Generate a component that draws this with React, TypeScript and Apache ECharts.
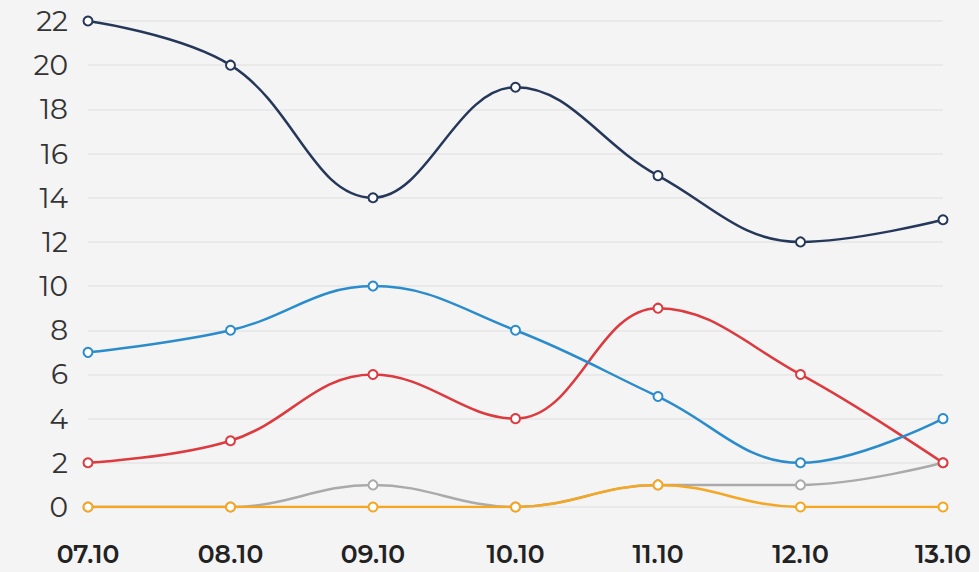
import React, { useEffect, useRef } from "react";
import * as echarts from "echarts";

const categories = ["07.10", "08.10", "09.10", "10.10", "11.10", "12.10", "13.10"];
const navySeries = [22, 20, 14, 19, 15, 12, 13];
const blueSeries = [7, 8, 10, 8, 5, 2, 4];
const redSeries = [2, 3, 6, 4, 9, 6, 2];
const graySeries = [0, 0, 1, 0, 1, 1, 2];
const orangeSeries = [0, 0, 0, 0, 1, 0, 0];
const yTicks = { min: 0, max: 22, interval: 2 };

const FONT = "Montserrat, 'DejaVu Sans', sans-serif";

export default function App() {
  const ref = useRef<HTMLDivElement>(null);
  useEffect(() => {
    if (!ref.current) return;
    const chart = echarts.init(ref.current, undefined, { renderer: "svg" });
    const mk = (name: string, data: number[], color: string, z: number) => ({
      name,
      type: "line",
      data,
      smooth: 0.4,
      z,
      symbol: "emptyCircle",
      symbolSize: 9,
      showSymbol: true,
      lineStyle: { color, width: 2.5 },
      itemStyle: { color, borderColor: color, borderWidth: 2.5 },
    });
    chart.setOption({
      animation: false,
      backgroundColor: "#f4f4f4",
      grid: { left: 88, right: 36, top: 21, bottom: 65, outerBoundsMode: "none" },
      xAxis: {
        type: "category",
        data: categories,
        boundaryGap: false,
        axisLine: { show: false },
        axisTick: { show: false },
        axisLabel: {
          color: "#222",
          fontFamily: FONT,
          fontSize: 25,
          fontWeight: 600,
          margin: 34,
        },
        splitLine: { show: false },
      },
      yAxis: {
        type: "value",
        min: yTicks.min,
        max: yTicks.max,
        interval: yTicks.interval,
        axisLine: { show: false },
        axisTick: { show: false },
        axisLabel: {
          color: "#333",
          fontFamily: FONT,
          fontSize: 28,
          margin: 20,
        },
        splitLine: { lineStyle: { color: "#e6e6e6", width: 1.5 } },
      },
      series: [
        mk("gray", graySeries, "#aaaaaa", 2),
        mk("orange", orangeSeries, "#f5a623", 3),
        mk("red", redSeries, "#dd3a3f", 4),
        mk("blue", blueSeries, "#2a8ccc", 5),
        mk("navy", navySeries, "#26385a", 6),
      ],
    });
    return () => chart.dispose();
  }, []);
  return (
    <div
      ref={ref}
      style={{ position: "absolute", left: 0, top: 0, width: 979, height: 572 }}
    />
  );
}
